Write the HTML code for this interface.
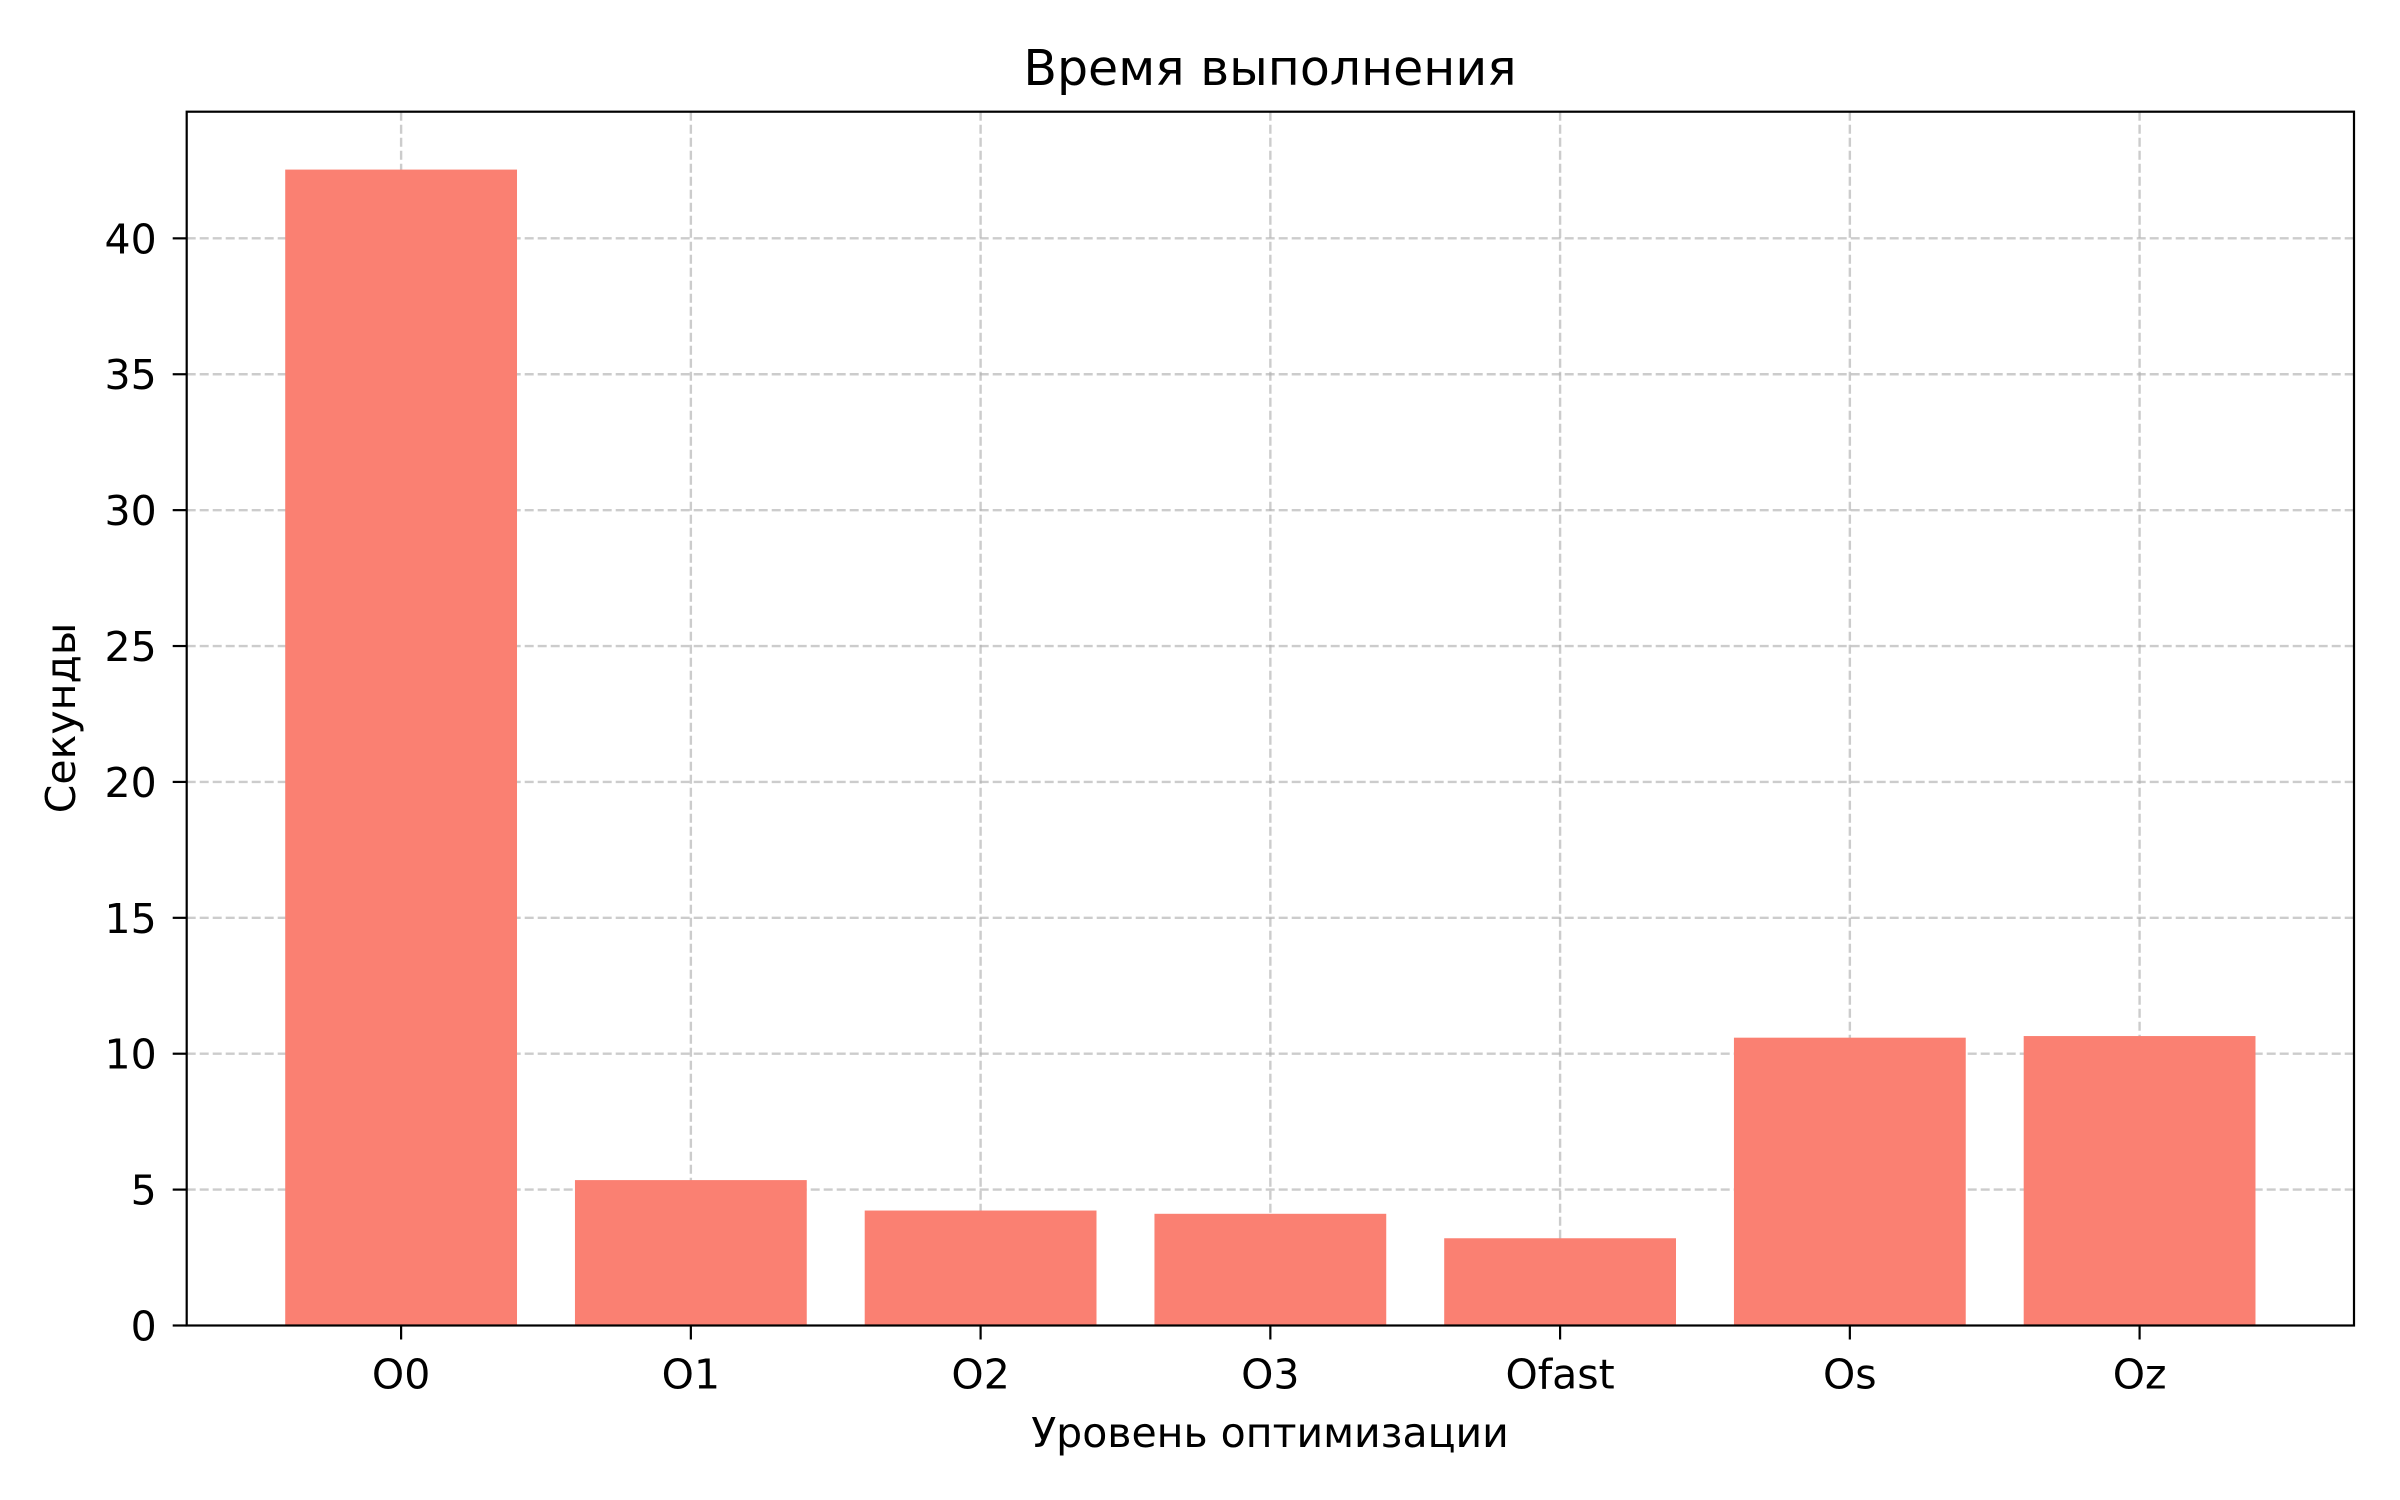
<!DOCTYPE html>
<html><head><meta charset="utf-8"><style>
html,body{margin:0;padding:0;background:#fff;}
svg{display:block;font-family:"DejaVu Sans","Liberation Sans",sans-serif;}
</style></head><body>
<svg id="chart" width="2400" height="1500" viewBox="0 0 2400 1500">
<rect width="2400" height="1500" fill="#fff"/>
<g id="grid"></g>
<g id="bars"></g>
<rect x="186.7" y="111.7" width="2167.3" height="1213.8" fill="none" stroke="#000" stroke-width="2.2"/>
<g id="ticks"></g>
<text x="1270" y="85" font-size="49" text-anchor="middle">Время выполнения</text>
<text x="1270" y="1447" font-size="41" text-anchor="middle">Уровень оптимизации</text>
<text x="0" y="0" font-size="41" text-anchor="middle" dominant-baseline="middle" transform="translate(64,718) rotate(-90)">Секунды</text>
</svg>
<script>
const categories = ["O0","O1","O2","O3","Ofast","Os","Oz"];
const seconds = [42.53, 5.35, 4.23, 4.11, 3.21, 10.59, 10.65];
const yTicks = [0,5,10,15,20,25,30,35,40];
const L=186.7,R=2354,T=111.7,B=1325.5;
const yMax=44.66, xMin=-0.74, xMax=6.74;
const NS="http://www.w3.org/2000/svg";
function yS(v){return B-(v/yMax)*(B-T);}
function xS(i){return L+(i-xMin)/(xMax-xMin)*(R-L);}
function mk(tag,attrs,parent){const e=document.createElementNS(NS,tag);for(const k in attrs)e.setAttribute(k,attrs[k]);parent.appendChild(e);return e;}
const grid=document.getElementById('grid'),bars=document.getElementById('bars'),ticks=document.getElementById('ticks');
yTicks.forEach(v=>{
  const y=yS(v);
  if(v>0){const g=mk('line',{x1:L,x2:R,y1:y,y2:y,stroke:'#b0b0b0','stroke-opacity':0.65,'stroke-width':2.4,'stroke-dasharray':'9,4'},grid);
  
  }
  const t=mk('line',{x1:L-14,x2:L,y1:y,y2:y,stroke:'#000','stroke-width':2.2},ticks);
  
  
  const tx=mk('text',{x:L-30,y:y+15,'font-size':41,'text-anchor':'end'},ticks);
  tx.textContent=v;
  
  
});
categories.forEach((c,i)=>{
  const x=xS(i);
  const g=mk('line',{x1:x,x2:x,y1:T,y2:B,stroke:'#b0b0b0','stroke-opacity':0.65,'stroke-width':2.4,'stroke-dasharray':'9,4'},grid);
  
  
  const w=xS(0.4)-xS(0);
  const b=mk('rect',{x:x-w,y:yS(seconds[i]),width:2*w,height:B-yS(seconds[i]),fill:'#fa8072'},bars);
  
  
  const t=mk('line',{x1:x,x2:x,y1:B,y2:B+14,stroke:'#000','stroke-width':2.2},ticks);
  
  
  const tx=mk('text',{x:x,y:B+63,'font-size':41,'text-anchor':'middle'},ticks);
  tx.textContent=c;
  
  
});
</script>
</body></html>
